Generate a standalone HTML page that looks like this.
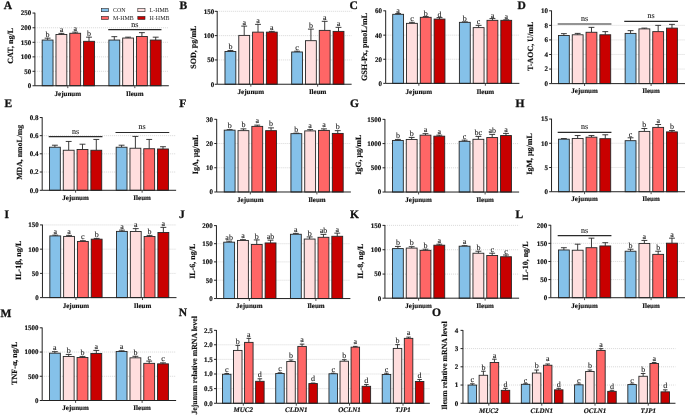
<!DOCTYPE html>
<html lang="en"><head><meta charset="utf-8"><title>Figure</title>
<style>
html,body{margin:0;padding:0;background:#fff;}
body{width:685px;height:416px;overflow:hidden;font-family:"Liberation Serif",serif;}
svg{display:block;}
</style></head><body>
<svg width="685" height="416" viewBox="0 0 685 416" font-family="'Liberation Serif', serif" text-rendering="geometricPrecision">
<style>.b{font-weight:bold;fill:#111;stroke:#111;stroke-width:0.16px;stroke-linejoin:round}.pl{stroke-width:0.3px}.r{fill:#1a1a1a;stroke:#1a1a1a;stroke-width:0.1px}</style>
<rect width="685" height="416" fill="#fff"/>
<g>
<line x1="34.9" y1="71.31" x2="168.83" y2="71.31" stroke="#b8b8b8" stroke-width="0.55" stroke-dasharray="1 1"/>
<line x1="34.9" y1="56.87" x2="168.83" y2="56.87" stroke="#b8b8b8" stroke-width="0.55" stroke-dasharray="1 1"/>
<line x1="34.9" y1="42.31" x2="168.83" y2="42.31" stroke="#b8b8b8" stroke-width="0.55" stroke-dasharray="1 1"/>
<line x1="34.9" y1="27.75" x2="168.83" y2="27.75" stroke="#b8b8b8" stroke-width="0.55" stroke-dasharray="1 1"/>
<path d="M47.61 40.05V38.17M44.68 38.17H50.54" stroke="#262626" stroke-width="0.9" fill="none"/>
<rect x="42.18" y="40.05" width="10.85" height="45.7" fill="#85c1e9" stroke="#262626" stroke-width="0.9"/>
<text x="47.61" y="36.77" font-size="8.0" text-anchor="middle" class="r">b</text>
<path d="M61.41 34.53V33.4M58.48 33.4H64.34" stroke="#262626" stroke-width="0.9" fill="none"/>
<rect x="55.98" y="34.53" width="10.85" height="51.22" fill="#ffdede" stroke="#262626" stroke-width="0.9"/>
<text x="61.41" y="32" font-size="8.0" text-anchor="middle" class="r">a</text>
<path d="M75.21 33.27V32.14M72.28 32.14H78.14" stroke="#262626" stroke-width="0.9" fill="none"/>
<rect x="69.78" y="33.27" width="10.85" height="52.48" fill="#ff6666" stroke="#262626" stroke-width="0.9"/>
<text x="75.21" y="30.74" font-size="8.0" text-anchor="middle" class="r">a</text>
<path d="M89.01 41.31V37.16M86.08 37.16H91.94" stroke="#262626" stroke-width="0.9" fill="none"/>
<rect x="83.58" y="41.31" width="10.85" height="44.44" fill="#c90000" stroke="#262626" stroke-width="0.9"/>
<text x="89.01" y="35.76" font-size="8.0" text-anchor="middle" class="r">b</text>
<path d="M114.31 40.05V36.66M111.38 36.66H117.24" stroke="#262626" stroke-width="0.9" fill="none"/>
<rect x="108.88" y="40.05" width="10.85" height="45.7" fill="#85c1e9" stroke="#262626" stroke-width="0.9"/>
<path d="M128.11 38.04V37.16M125.18 37.16H131.04" stroke="#262626" stroke-width="0.9" fill="none"/>
<rect x="122.68" y="38.04" width="10.85" height="47.71" fill="#ffdede" stroke="#262626" stroke-width="0.9"/>
<path d="M141.91 36.53V32.64M138.98 32.64H144.84" stroke="#262626" stroke-width="0.9" fill="none"/>
<rect x="136.48" y="36.53" width="10.85" height="49.21" fill="#ff6666" stroke="#262626" stroke-width="0.9"/>
<path d="M155.71 40.05V37.16M152.78 37.16H158.64" stroke="#262626" stroke-width="0.9" fill="none"/>
<rect x="150.28" y="40.05" width="10.85" height="45.7" fill="#c90000" stroke="#262626" stroke-width="0.9"/>
<line x1="108.22" y1="29.6" x2="161.45" y2="29.6" stroke="#2a2a2a" stroke-width="1.15"/>
<text x="134.84" y="26.76" font-size="8.0" text-anchor="middle" class="r">ns</text>
<path d="M34.9 12.76V85.75H168.83" stroke="#222" stroke-width="1" fill="none"/>
<line x1="32.5" y1="85.75" x2="34.9" y2="85.75" stroke="#222" stroke-width="1"/>
<text x="31.3" y="88.15" font-size="7.0" class="b" text-anchor="end">0</text>
<line x1="32.5" y1="71.31" x2="34.9" y2="71.31" stroke="#222" stroke-width="1"/>
<text x="31.3" y="73.71" font-size="7.0" class="b" text-anchor="end">50</text>
<line x1="32.5" y1="56.87" x2="34.9" y2="56.87" stroke="#222" stroke-width="1"/>
<text x="31.3" y="59.27" font-size="7.0" class="b" text-anchor="end">100</text>
<line x1="32.5" y1="42.31" x2="34.9" y2="42.31" stroke="#222" stroke-width="1"/>
<text x="31.3" y="44.71" font-size="7.0" class="b" text-anchor="end">150</text>
<line x1="32.5" y1="27.75" x2="34.9" y2="27.75" stroke="#222" stroke-width="1"/>
<text x="31.3" y="30.15" font-size="7.0" class="b" text-anchor="end">200</text>
<line x1="32.5" y1="13.06" x2="34.9" y2="13.06" stroke="#222" stroke-width="1"/>
<text x="31.3" y="15.46" font-size="7.0" class="b" text-anchor="end">250</text>
<line x1="67.8" y1="85.75" x2="67.8" y2="88.15" stroke="#222" stroke-width="0.8"/>
<text x="67.8" y="96.17" font-size="7.0" class="b" text-anchor="middle">Jejunum</text>
<line x1="134.84" y1="85.75" x2="134.84" y2="88.15" stroke="#222" stroke-width="0.8"/>
<text x="134.84" y="96.17" font-size="7.0" class="b" text-anchor="middle">Ileum</text>
<text transform="translate(12.9 45.8) rotate(-90)" font-size="8.0" class="b" text-anchor="middle">CAT, ng/L</text>
<text x="3.8" y="8.7" font-size="11.5" class="b pl">A</text>
</g>
<g>
<line x1="217.2" y1="59.94" x2="351.63" y2="59.94" stroke="#b8b8b8" stroke-width="0.55" stroke-dasharray="1 1"/>
<line x1="217.2" y1="35.61" x2="351.63" y2="35.61" stroke="#b8b8b8" stroke-width="0.55" stroke-dasharray="1 1"/>
<line x1="217.2" y1="11.3" x2="351.63" y2="11.3" stroke="#b8b8b8" stroke-width="0.55" stroke-dasharray="1 1"/>
<path d="M230.41 51.47V50.47M227.48 50.47H233.34" stroke="#262626" stroke-width="0.9" fill="none"/>
<rect x="224.98" y="51.47" width="10.85" height="32.77" fill="#85c1e9" stroke="#262626" stroke-width="0.9"/>
<text x="230.41" y="49.07" font-size="8.0" text-anchor="middle" class="r">b</text>
<path d="M244.21 35.4V26.11M241.28 26.11H247.14" stroke="#262626" stroke-width="0.9" fill="none"/>
<rect x="238.78" y="35.4" width="10.85" height="48.84" fill="#ffdede" stroke="#262626" stroke-width="0.9"/>
<text x="244.21" y="24.71" font-size="8.0" text-anchor="middle" class="r">a</text>
<path d="M258.01 32.14V24.36M255.08 24.36H260.94" stroke="#262626" stroke-width="0.9" fill="none"/>
<rect x="252.58" y="32.14" width="10.85" height="52.1" fill="#ff6666" stroke="#262626" stroke-width="0.9"/>
<text x="258.01" y="22.96" font-size="8.0" text-anchor="middle" class="r">a</text>
<path d="M271.81 32.14V31.39M268.88 31.39H274.74" stroke="#262626" stroke-width="0.9" fill="none"/>
<rect x="266.38" y="32.14" width="10.85" height="52.1" fill="#c90000" stroke="#262626" stroke-width="0.9"/>
<text x="271.81" y="29.99" font-size="8.0" text-anchor="middle" class="r">a</text>
<path d="M297.11 51.98V51.22M294.18 51.22H300.04" stroke="#262626" stroke-width="0.9" fill="none"/>
<rect x="291.68" y="51.98" width="10.85" height="32.27" fill="#85c1e9" stroke="#262626" stroke-width="0.9"/>
<text x="297.11" y="49.82" font-size="8.0" text-anchor="middle" class="r">c</text>
<path d="M310.91 40.68V29.13M307.98 29.13H313.84" stroke="#262626" stroke-width="0.9" fill="none"/>
<rect x="305.48" y="40.68" width="10.85" height="43.56" fill="#ffdede" stroke="#262626" stroke-width="0.9"/>
<text x="310.91" y="27.73" font-size="8.0" text-anchor="middle" class="r">b</text>
<path d="M324.71 30.38V21.34M321.78 21.34H327.64" stroke="#262626" stroke-width="0.9" fill="none"/>
<rect x="319.28" y="30.38" width="10.85" height="53.86" fill="#ff6666" stroke="#262626" stroke-width="0.9"/>
<text x="324.71" y="19.94" font-size="8.0" text-anchor="middle" class="r">a</text>
<path d="M338.51 31.39V27.37M335.58 27.37H341.44" stroke="#262626" stroke-width="0.9" fill="none"/>
<rect x="333.08" y="31.39" width="10.85" height="52.86" fill="#c90000" stroke="#262626" stroke-width="0.9"/>
<text x="338.51" y="25.97" font-size="8.0" text-anchor="middle" class="r">a</text>
<path d="M217.2 11V84.24H351.63" stroke="#222" stroke-width="1" fill="none"/>
<line x1="214.8" y1="84.24" x2="217.2" y2="84.24" stroke="#222" stroke-width="1"/>
<text x="214.2" y="86.64" font-size="7.0" class="b" text-anchor="end">0</text>
<line x1="214.8" y1="59.94" x2="217.2" y2="59.94" stroke="#222" stroke-width="1"/>
<text x="214.2" y="62.34" font-size="7.0" class="b" text-anchor="end">50</text>
<line x1="214.8" y1="35.61" x2="217.2" y2="35.61" stroke="#222" stroke-width="1"/>
<text x="214.2" y="38.01" font-size="7.0" class="b" text-anchor="end">100</text>
<line x1="214.8" y1="11.3" x2="217.2" y2="11.3" stroke="#222" stroke-width="1"/>
<text x="214.2" y="13.7" font-size="7.0" class="b" text-anchor="end">150</text>
<line x1="250.84" y1="84.24" x2="250.84" y2="86.64" stroke="#222" stroke-width="0.8"/>
<text x="250.84" y="93.66" font-size="7.0" class="b" text-anchor="middle">Jejunum</text>
<line x1="317.64" y1="84.24" x2="317.64" y2="86.64" stroke="#222" stroke-width="0.8"/>
<text x="317.64" y="93.66" font-size="7.0" class="b" text-anchor="middle">Ileum</text>
<text transform="translate(196 47.1) rotate(-90)" font-size="8.0" class="b" text-anchor="middle">SOD, pg/mL</text>
<text x="179.6" y="8.7" font-size="11.5" class="b pl">B</text>
</g>
<g>
<line x1="385.68" y1="59.26" x2="519.36" y2="59.26" stroke="#b8b8b8" stroke-width="0.55" stroke-dasharray="1 1"/>
<line x1="385.68" y1="35.15" x2="519.36" y2="35.15" stroke="#b8b8b8" stroke-width="0.55" stroke-dasharray="1 1"/>
<path d="M398.14 14.31V13.56M395.21 13.56H401.07" stroke="#262626" stroke-width="0.9" fill="none"/>
<rect x="392.71" y="14.31" width="10.85" height="69.05" fill="#85c1e9" stroke="#262626" stroke-width="0.9"/>
<text x="398.14" y="12.56" font-size="8.0" text-anchor="middle" class="r">a</text>
<path d="M411.94 23.35V22.35M409.01 22.35H414.87" stroke="#262626" stroke-width="0.9" fill="none"/>
<rect x="406.51" y="23.35" width="10.85" height="60.01" fill="#ffdede" stroke="#262626" stroke-width="0.9"/>
<text x="411.94" y="21.35" font-size="8.0" text-anchor="middle" class="r">c</text>
<path d="M425.74 17.33V16.57M422.81 16.57H428.67" stroke="#262626" stroke-width="0.9" fill="none"/>
<rect x="420.31" y="17.33" width="10.85" height="66.04" fill="#ff6666" stroke="#262626" stroke-width="0.9"/>
<text x="425.74" y="15.57" font-size="8.0" text-anchor="middle" class="r">b</text>
<path d="M439.54 19.08V17.58M436.61 17.58H442.47" stroke="#262626" stroke-width="0.9" fill="none"/>
<rect x="434.11" y="19.08" width="10.85" height="64.28" fill="#c90000" stroke="#262626" stroke-width="0.9"/>
<text x="439.54" y="16.58" font-size="8.0" text-anchor="middle" class="r">d</text>
<path d="M464.84 22.35V21.85M461.91 21.85H467.77" stroke="#262626" stroke-width="0.9" fill="none"/>
<rect x="459.41" y="22.35" width="10.85" height="61.02" fill="#85c1e9" stroke="#262626" stroke-width="0.9"/>
<text x="464.84" y="20.85" font-size="8.0" text-anchor="middle" class="r">b</text>
<path d="M478.64 27.62V25.36M475.71 25.36H481.57" stroke="#262626" stroke-width="0.9" fill="none"/>
<rect x="473.21" y="27.62" width="10.85" height="55.74" fill="#ffdede" stroke="#262626" stroke-width="0.9"/>
<text x="478.64" y="24.36" font-size="8.0" text-anchor="middle" class="r">c</text>
<path d="M492.44 20.34V18.58M489.51 18.58H495.37" stroke="#262626" stroke-width="0.9" fill="none"/>
<rect x="487.01" y="20.34" width="10.85" height="63.02" fill="#ff6666" stroke="#262626" stroke-width="0.9"/>
<text x="492.44" y="17.58" font-size="8.0" text-anchor="middle" class="r">a</text>
<path d="M506.24 20.34V19.84M503.31 19.84H509.17" stroke="#262626" stroke-width="0.9" fill="none"/>
<rect x="500.81" y="20.34" width="10.85" height="63.02" fill="#c90000" stroke="#262626" stroke-width="0.9"/>
<text x="506.24" y="18.84" font-size="8.0" text-anchor="middle" class="r">a</text>
<path d="M385.68 10.5V83.36H519.36" stroke="#222" stroke-width="1" fill="none"/>
<line x1="383.28" y1="83.36" x2="385.68" y2="83.36" stroke="#222" stroke-width="1"/>
<text x="382.08" y="85.76" font-size="7.0" class="b" text-anchor="end">0</text>
<line x1="383.28" y1="59.26" x2="385.68" y2="59.26" stroke="#222" stroke-width="1"/>
<text x="382.08" y="61.66" font-size="7.0" class="b" text-anchor="end">20</text>
<line x1="383.28" y1="35.15" x2="385.68" y2="35.15" stroke="#222" stroke-width="1"/>
<text x="382.08" y="37.55" font-size="7.0" class="b" text-anchor="end">40</text>
<line x1="383.28" y1="10.8" x2="385.68" y2="10.8" stroke="#222" stroke-width="1"/>
<text x="382.08" y="13.2" font-size="7.0" class="b" text-anchor="end">60</text>
<line x1="418.83" y1="83.36" x2="418.83" y2="85.76" stroke="#222" stroke-width="0.8"/>
<text x="418.83" y="93.66" font-size="7.0" class="b" text-anchor="middle">Jejunum</text>
<line x1="485.37" y1="83.36" x2="485.37" y2="85.76" stroke="#222" stroke-width="0.8"/>
<text x="485.37" y="93.66" font-size="7.0" class="b" text-anchor="middle">Ileum</text>
<text transform="translate(366.8 46.9) rotate(-90)" font-size="8.15" class="b" text-anchor="middle">GSH-Px, pmoL/mL</text>
<text x="349.5" y="8.7" font-size="11.5" class="b pl">C</text>
</g>
<g>
<line x1="551.54" y1="69.05" x2="685.1" y2="69.05" stroke="#b8b8b8" stroke-width="0.55" stroke-dasharray="1 1"/>
<line x1="551.54" y1="54.49" x2="685.1" y2="54.49" stroke="#b8b8b8" stroke-width="0.55" stroke-dasharray="1 1"/>
<line x1="551.54" y1="39.92" x2="685.1" y2="39.92" stroke="#b8b8b8" stroke-width="0.55" stroke-dasharray="1 1"/>
<line x1="551.54" y1="25.36" x2="685.1" y2="25.36" stroke="#b8b8b8" stroke-width="0.55" stroke-dasharray="1 1"/>
<path d="M563.87 35.53V33.65M560.94 33.65H566.8" stroke="#262626" stroke-width="0.9" fill="none"/>
<rect x="558.45" y="35.53" width="10.85" height="48.08" fill="#85c1e9" stroke="#262626" stroke-width="0.9"/>
<path d="M577.67 34.78V33.4M574.74 33.4H580.6" stroke="#262626" stroke-width="0.9" fill="none"/>
<rect x="572.25" y="34.78" width="10.85" height="48.84" fill="#ffdede" stroke="#262626" stroke-width="0.9"/>
<path d="M591.47 32.27V27.37M588.54 27.37H594.4" stroke="#262626" stroke-width="0.9" fill="none"/>
<rect x="586.05" y="32.27" width="10.85" height="51.35" fill="#ff6666" stroke="#262626" stroke-width="0.9"/>
<path d="M605.27 34.78V31.64M602.34 31.64H608.2" stroke="#262626" stroke-width="0.9" fill="none"/>
<rect x="599.85" y="34.78" width="10.85" height="48.84" fill="#c90000" stroke="#262626" stroke-width="0.9"/>
<path d="M630.57 33.4V30.63M627.64 30.63H633.5" stroke="#262626" stroke-width="0.9" fill="none"/>
<rect x="625.15" y="33.4" width="10.85" height="50.22" fill="#85c1e9" stroke="#262626" stroke-width="0.9"/>
<path d="M644.37 28.88V28.12M641.44 28.12H647.3" stroke="#262626" stroke-width="0.9" fill="none"/>
<rect x="638.95" y="28.88" width="10.85" height="54.74" fill="#ffdede" stroke="#262626" stroke-width="0.9"/>
<path d="M658.17 31.64V25.36M655.24 25.36H661.1" stroke="#262626" stroke-width="0.9" fill="none"/>
<rect x="652.75" y="31.64" width="10.85" height="51.98" fill="#ff6666" stroke="#262626" stroke-width="0.9"/>
<path d="M671.97 28.12V24.36M669.04 24.36H674.9" stroke="#262626" stroke-width="0.9" fill="none"/>
<rect x="666.55" y="28.12" width="10.85" height="55.49" fill="#c90000" stroke="#262626" stroke-width="0.9"/>
<line x1="557.69" y1="24" x2="611.43" y2="24" stroke="#2a2a2a" stroke-width="1.15"/>
<line x1="624.24" y1="21.39" x2="677.97" y2="21.39" stroke="#2a2a2a" stroke-width="1.15"/>
<text x="584.56" y="20.99" font-size="8.0" text-anchor="middle" class="r">ns</text>
<text x="651.1" y="17.97" font-size="8.0" text-anchor="middle" class="r">ns</text>
<path d="M551.54 10.5V83.61H685.1" stroke="#222" stroke-width="1" fill="none"/>
<line x1="549.14" y1="83.61" x2="551.54" y2="83.61" stroke="#222" stroke-width="1"/>
<text x="547.94" y="86.01" font-size="7.0" class="b" text-anchor="end">0</text>
<line x1="549.14" y1="69.05" x2="551.54" y2="69.05" stroke="#222" stroke-width="1"/>
<text x="547.94" y="71.45" font-size="7.0" class="b" text-anchor="end">2</text>
<line x1="549.14" y1="54.49" x2="551.54" y2="54.49" stroke="#222" stroke-width="1"/>
<text x="547.94" y="56.89" font-size="7.0" class="b" text-anchor="end">4</text>
<line x1="549.14" y1="39.92" x2="551.54" y2="39.92" stroke="#222" stroke-width="1"/>
<text x="547.94" y="42.32" font-size="7.0" class="b" text-anchor="end">6</text>
<line x1="549.14" y1="25.36" x2="551.54" y2="25.36" stroke="#222" stroke-width="1"/>
<text x="547.94" y="27.76" font-size="7.0" class="b" text-anchor="end">8</text>
<line x1="549.14" y1="10.8" x2="551.54" y2="10.8" stroke="#222" stroke-width="1"/>
<text x="547.94" y="13.2" font-size="7.0" class="b" text-anchor="end">10</text>
<line x1="584.56" y1="83.61" x2="584.56" y2="86.01" stroke="#222" stroke-width="0.8"/>
<text x="584.56" y="93.41" font-size="7.0" class="b" text-anchor="middle">Jejunum</text>
<line x1="651.1" y1="83.61" x2="651.1" y2="86.01" stroke="#222" stroke-width="0.8"/>
<text x="651.1" y="93.41" font-size="7.0" class="b" text-anchor="middle">Ileum</text>
<text transform="translate(533.3 46.2) rotate(-90)" font-size="8.0" class="b" text-anchor="middle">T-AOC, U/mL</text>
<text x="517.4" y="8.7" font-size="11.5" class="b pl">D</text>
</g>
<g>
<line x1="42.18" y1="172.01" x2="176.12" y2="172.01" stroke="#b8b8b8" stroke-width="0.55" stroke-dasharray="1 1"/>
<line x1="42.18" y1="153.8" x2="176.12" y2="153.8" stroke="#b8b8b8" stroke-width="0.55" stroke-dasharray="1 1"/>
<line x1="42.18" y1="135.67" x2="176.12" y2="135.67" stroke="#b8b8b8" stroke-width="0.55" stroke-dasharray="1 1"/>
<path d="M54.89 147.22V145.21M51.96 145.21H57.82" stroke="#262626" stroke-width="0.9" fill="none"/>
<rect x="49.47" y="147.22" width="10.85" height="43.06" fill="#85c1e9" stroke="#262626" stroke-width="0.9"/>
<path d="M68.69 150.24V141.45M65.76 141.45H71.62" stroke="#262626" stroke-width="0.9" fill="none"/>
<rect x="63.27" y="150.24" width="10.85" height="40.05" fill="#ffdede" stroke="#262626" stroke-width="0.9"/>
<path d="M82.49 149.48V144.21M79.56 144.21H85.42" stroke="#262626" stroke-width="0.9" fill="none"/>
<rect x="77.07" y="149.48" width="10.85" height="40.8" fill="#ff6666" stroke="#262626" stroke-width="0.9"/>
<path d="M96.29 150.24V139.44M93.36 139.44H99.22" stroke="#262626" stroke-width="0.9" fill="none"/>
<rect x="90.87" y="150.24" width="10.85" height="40.05" fill="#c90000" stroke="#262626" stroke-width="0.9"/>
<path d="M121.59 147.22V145.21M118.66 145.21H124.52" stroke="#262626" stroke-width="0.9" fill="none"/>
<rect x="116.17" y="147.22" width="10.85" height="43.06" fill="#85c1e9" stroke="#262626" stroke-width="0.9"/>
<path d="M135.39 148.23V136.43M132.46 136.43H138.32" stroke="#262626" stroke-width="0.9" fill="none"/>
<rect x="129.97" y="148.23" width="10.85" height="42.06" fill="#ffdede" stroke="#262626" stroke-width="0.9"/>
<path d="M149.19 148.73V139.44M146.26 139.44H152.12" stroke="#262626" stroke-width="0.9" fill="none"/>
<rect x="143.77" y="148.73" width="10.85" height="41.56" fill="#ff6666" stroke="#262626" stroke-width="0.9"/>
<path d="M162.99 148.98V146.72M160.06 146.72H165.92" stroke="#262626" stroke-width="0.9" fill="none"/>
<rect x="157.57" y="148.98" width="10.85" height="41.31" fill="#c90000" stroke="#262626" stroke-width="0.9"/>
<line x1="48.71" y1="136.58" x2="102.45" y2="136.58" stroke="#2a2a2a" stroke-width="1.15"/>
<line x1="115.5" y1="132.48" x2="169.24" y2="132.48" stroke="#2a2a2a" stroke-width="1.15"/>
<text x="75.58" y="133.56" font-size="8.0" text-anchor="middle" class="r">ns</text>
<text x="142.12" y="129.12" font-size="8.0" text-anchor="middle" class="r">ns</text>
<path d="M42.18 117.24V190.29H176.12" stroke="#222" stroke-width="1" fill="none"/>
<line x1="39.78" y1="190.29" x2="42.18" y2="190.29" stroke="#222" stroke-width="1"/>
<text x="38.58" y="192.69" font-size="7.0" class="b" text-anchor="end">0.0</text>
<line x1="39.78" y1="172.01" x2="42.18" y2="172.01" stroke="#222" stroke-width="1"/>
<text x="38.58" y="174.41" font-size="7.0" class="b" text-anchor="end">0.2</text>
<line x1="39.78" y1="153.8" x2="42.18" y2="153.8" stroke="#222" stroke-width="1"/>
<text x="38.58" y="156.2" font-size="7.0" class="b" text-anchor="end">0.4</text>
<line x1="39.78" y1="135.67" x2="42.18" y2="135.67" stroke="#222" stroke-width="1"/>
<text x="38.58" y="138.07" font-size="7.0" class="b" text-anchor="end">0.6</text>
<line x1="39.78" y1="117.54" x2="42.18" y2="117.54" stroke="#222" stroke-width="1"/>
<text x="38.58" y="119.94" font-size="7.0" class="b" text-anchor="end">0.8</text>
<line x1="75.58" y1="190.29" x2="75.58" y2="192.69" stroke="#222" stroke-width="0.8"/>
<text x="75.58" y="199.7" font-size="7.0" class="b" text-anchor="middle">Jejunum</text>
<line x1="142.12" y1="190.29" x2="142.12" y2="192.69" stroke="#222" stroke-width="0.8"/>
<text x="142.12" y="199.7" font-size="7.0" class="b" text-anchor="middle">Ileum</text>
<text transform="translate(22.2 152.3) rotate(-90)" font-size="7.8" class="b" text-anchor="middle">MDA, nmoL/mg</text>
<text x="4.5" y="106.7" font-size="11.5" class="b pl">E</text>
</g>
<g>
<line x1="216.69" y1="167.76" x2="350.88" y2="167.76" stroke="#b8b8b8" stroke-width="0.55" stroke-dasharray="1 1"/>
<line x1="216.69" y1="143.53" x2="350.88" y2="143.53" stroke="#b8b8b8" stroke-width="0.55" stroke-dasharray="1 1"/>
<path d="M229.65 130.15V129.65M226.72 129.65H232.58" stroke="#262626" stroke-width="0.9" fill="none"/>
<rect x="224.23" y="130.15" width="10.85" height="61.84" fill="#85c1e9" stroke="#262626" stroke-width="0.9"/>
<text x="229.65" y="128.25" font-size="8.0" text-anchor="middle" class="r">b</text>
<path d="M243.45 130.65V128.89M240.52 128.89H246.38" stroke="#262626" stroke-width="0.9" fill="none"/>
<rect x="238.03" y="130.65" width="10.85" height="61.34" fill="#ffdede" stroke="#262626" stroke-width="0.9"/>
<text x="243.45" y="127.49" font-size="8.0" text-anchor="middle" class="r">b</text>
<path d="M257.25 126.38V125.13M254.32 125.13H260.18" stroke="#262626" stroke-width="0.9" fill="none"/>
<rect x="251.83" y="126.38" width="10.85" height="65.61" fill="#ff6666" stroke="#262626" stroke-width="0.9"/>
<text x="257.25" y="123.13" font-size="8.0" text-anchor="middle" class="r">a</text>
<path d="M271.05 130.65V127.89M268.12 127.89H273.98" stroke="#262626" stroke-width="0.9" fill="none"/>
<rect x="265.63" y="130.65" width="10.85" height="61.34" fill="#c90000" stroke="#262626" stroke-width="0.9"/>
<text x="271.05" y="126.49" font-size="8.0" text-anchor="middle" class="r">b</text>
<path d="M296.35 133.66V133.16M293.42 133.16H299.28" stroke="#262626" stroke-width="0.9" fill="none"/>
<rect x="290.93" y="133.66" width="10.85" height="58.33" fill="#85c1e9" stroke="#262626" stroke-width="0.9"/>
<text x="296.35" y="131.76" font-size="8.0" text-anchor="middle" class="r">b</text>
<path d="M310.15 130.9V129.65M307.22 129.65H313.08" stroke="#262626" stroke-width="0.9" fill="none"/>
<rect x="304.73" y="130.9" width="10.85" height="61.09" fill="#ffdede" stroke="#262626" stroke-width="0.9"/>
<text x="310.15" y="128.25" font-size="8.0" text-anchor="middle" class="r">a</text>
<path d="M323.95 130.4V128.89M321.02 128.89H326.88" stroke="#262626" stroke-width="0.9" fill="none"/>
<rect x="318.53" y="130.4" width="10.85" height="61.59" fill="#ff6666" stroke="#262626" stroke-width="0.9"/>
<text x="323.95" y="127.49" font-size="8.0" text-anchor="middle" class="r">a</text>
<path d="M337.75 133.41V130.65M334.82 130.65H340.68" stroke="#262626" stroke-width="0.9" fill="none"/>
<rect x="332.33" y="133.41" width="10.85" height="58.58" fill="#c90000" stroke="#262626" stroke-width="0.9"/>
<text x="337.75" y="129.25" font-size="8.0" text-anchor="middle" class="r">b</text>
<path d="M216.69 119V191.99H350.88" stroke="#222" stroke-width="1" fill="none"/>
<line x1="214.29" y1="191.99" x2="216.69" y2="191.99" stroke="#222" stroke-width="1"/>
<text x="213.09" y="194.39" font-size="7.0" class="b" text-anchor="end">0</text>
<line x1="214.29" y1="167.76" x2="216.69" y2="167.76" stroke="#222" stroke-width="1"/>
<text x="213.09" y="170.16" font-size="7.0" class="b" text-anchor="end">10</text>
<line x1="214.29" y1="143.53" x2="216.69" y2="143.53" stroke="#222" stroke-width="1"/>
<text x="213.09" y="145.93" font-size="7.0" class="b" text-anchor="end">20</text>
<line x1="214.29" y1="119.3" x2="216.69" y2="119.3" stroke="#222" stroke-width="1"/>
<text x="213.09" y="121.7" font-size="7.0" class="b" text-anchor="end">30</text>
<line x1="250.34" y1="191.99" x2="250.34" y2="194.39" stroke="#222" stroke-width="0.8"/>
<text x="250.34" y="201.96" font-size="7.0" class="b" text-anchor="middle">Jejunum</text>
<line x1="316.88" y1="191.99" x2="316.88" y2="194.39" stroke="#222" stroke-width="0.8"/>
<text x="316.88" y="201.96" font-size="7.0" class="b" text-anchor="middle">Ileum</text>
<text transform="translate(198 154.4) rotate(-90)" font-size="8.0" class="b" text-anchor="middle">IgA, μg/mL</text>
<text x="179.2" y="106.7" font-size="11.5" class="b pl">F</text>
</g>
<g>
<line x1="384.93" y1="167.81" x2="519.11" y2="167.81" stroke="#b8b8b8" stroke-width="0.55" stroke-dasharray="1 1"/>
<line x1="384.93" y1="143.58" x2="519.11" y2="143.58" stroke="#b8b8b8" stroke-width="0.55" stroke-dasharray="1 1"/>
<path d="M397.89 140.44V139.44M394.96 139.44H400.82" stroke="#262626" stroke-width="0.9" fill="none"/>
<rect x="392.46" y="140.44" width="10.85" height="51.6" fill="#85c1e9" stroke="#262626" stroke-width="0.9"/>
<text x="397.89" y="138.04" font-size="8.0" text-anchor="middle" class="r">b</text>
<path d="M411.69 139.44V137.43M408.76 137.43H414.62" stroke="#262626" stroke-width="0.9" fill="none"/>
<rect x="406.26" y="139.44" width="10.85" height="52.6" fill="#ffdede" stroke="#262626" stroke-width="0.9"/>
<text x="411.69" y="136.03" font-size="8.0" text-anchor="middle" class="r">b</text>
<path d="M425.49 135.17V133.66M422.56 133.66H428.42" stroke="#262626" stroke-width="0.9" fill="none"/>
<rect x="420.06" y="135.17" width="10.85" height="56.87" fill="#ff6666" stroke="#262626" stroke-width="0.9"/>
<text x="425.49" y="132.26" font-size="8.0" text-anchor="middle" class="r">a</text>
<path d="M439.29 136.18V135.17M436.36 135.17H442.22" stroke="#262626" stroke-width="0.9" fill="none"/>
<rect x="433.86" y="136.18" width="10.85" height="55.87" fill="#c90000" stroke="#262626" stroke-width="0.9"/>
<text x="439.29" y="133.77" font-size="8.0" text-anchor="middle" class="r">a</text>
<path d="M464.59 141.32V140.19M461.66 140.19H467.52" stroke="#262626" stroke-width="0.9" fill="none"/>
<rect x="459.16" y="141.32" width="10.85" height="50.72" fill="#85c1e9" stroke="#262626" stroke-width="0.9"/>
<text x="464.59" y="138.79" font-size="8.0" text-anchor="middle" class="r">c</text>
<path d="M478.39 139.31V136.43M475.46 136.43H481.32" stroke="#262626" stroke-width="0.9" fill="none"/>
<rect x="472.96" y="139.31" width="10.85" height="52.73" fill="#ffdede" stroke="#262626" stroke-width="0.9"/>
<text x="478.39" y="135.03" font-size="8.0" text-anchor="middle" class="r">bc</text>
<path d="M492.19 137.56V134.42M489.26 134.42H495.12" stroke="#262626" stroke-width="0.9" fill="none"/>
<rect x="486.76" y="137.56" width="10.85" height="54.49" fill="#ff6666" stroke="#262626" stroke-width="0.9"/>
<text x="492.19" y="133.02" font-size="8.0" text-anchor="middle" class="r">ab</text>
<path d="M505.99 135.55V133.41M503.06 133.41H508.92" stroke="#262626" stroke-width="0.9" fill="none"/>
<rect x="500.56" y="135.55" width="10.85" height="56.5" fill="#c90000" stroke="#262626" stroke-width="0.9"/>
<text x="505.99" y="132.01" font-size="8.0" text-anchor="middle" class="r">a</text>
<path d="M384.93 119.05V192.04H519.11" stroke="#222" stroke-width="1" fill="none"/>
<line x1="382.53" y1="192.04" x2="384.93" y2="192.04" stroke="#222" stroke-width="1"/>
<text x="381.33" y="194.44" font-size="7.0" class="b" text-anchor="end">0</text>
<line x1="382.53" y1="167.81" x2="384.93" y2="167.81" stroke="#222" stroke-width="1"/>
<text x="381.33" y="170.21" font-size="7.0" class="b" text-anchor="end">500</text>
<line x1="382.53" y1="143.58" x2="384.93" y2="143.58" stroke="#222" stroke-width="1"/>
<text x="381.33" y="145.98" font-size="7.0" class="b" text-anchor="end">1000</text>
<line x1="382.53" y1="119.35" x2="384.93" y2="119.35" stroke="#222" stroke-width="1"/>
<text x="381.33" y="121.75" font-size="7.0" class="b" text-anchor="end">1500</text>
<line x1="418.58" y1="192.04" x2="418.58" y2="194.44" stroke="#222" stroke-width="0.8"/>
<text x="418.58" y="201.96" font-size="7.0" class="b" text-anchor="middle">Jejunum</text>
<line x1="485.12" y1="192.04" x2="485.12" y2="194.44" stroke="#222" stroke-width="0.8"/>
<text x="485.12" y="201.96" font-size="7.0" class="b" text-anchor="middle">Ileum</text>
<text transform="translate(360.6 154.8) rotate(-90)" font-size="8.0" class="b" text-anchor="middle">IgG, μg/mL</text>
<text x="350.1" y="106.7" font-size="11.5" class="b pl">G</text>
</g>
<g>
<line x1="551.54" y1="167.51" x2="685.1" y2="167.51" stroke="#b8b8b8" stroke-width="0.55" stroke-dasharray="1 1"/>
<line x1="551.54" y1="143.28" x2="685.1" y2="143.28" stroke="#b8b8b8" stroke-width="0.55" stroke-dasharray="1 1"/>
<path d="M563.87 139.19V138.56M560.94 138.56H566.8" stroke="#262626" stroke-width="0.9" fill="none"/>
<rect x="558.45" y="139.19" width="10.85" height="52.55" fill="#85c1e9" stroke="#262626" stroke-width="0.9"/>
<path d="M577.67 138.44V135.55M574.74 135.55H580.6" stroke="#262626" stroke-width="0.9" fill="none"/>
<rect x="572.25" y="138.44" width="10.85" height="53.31" fill="#ffdede" stroke="#262626" stroke-width="0.9"/>
<path d="M591.47 137.18V135.55M588.54 135.55H594.4" stroke="#262626" stroke-width="0.9" fill="none"/>
<rect x="586.05" y="137.18" width="10.85" height="54.56" fill="#ff6666" stroke="#262626" stroke-width="0.9"/>
<path d="M605.27 138.69V134.79M602.34 134.79H608.2" stroke="#262626" stroke-width="0.9" fill="none"/>
<rect x="599.85" y="138.69" width="10.85" height="53.06" fill="#c90000" stroke="#262626" stroke-width="0.9"/>
<path d="M630.57 140.69V137.81M627.64 137.81H633.5" stroke="#262626" stroke-width="0.9" fill="none"/>
<rect x="625.15" y="140.69" width="10.85" height="51.05" fill="#85c1e9" stroke="#262626" stroke-width="0.9"/>
<text x="630.57" y="137.41" font-size="8.0" text-anchor="middle" class="r">c</text>
<path d="M644.37 131.4V128.52M641.44 128.52H647.3" stroke="#262626" stroke-width="0.9" fill="none"/>
<rect x="638.95" y="131.4" width="10.85" height="60.34" fill="#ffdede" stroke="#262626" stroke-width="0.9"/>
<text x="644.37" y="127.42" font-size="8.0" text-anchor="middle" class="r">b</text>
<path d="M658.17 127.39V124.5M655.24 124.5H661.1" stroke="#262626" stroke-width="0.9" fill="none"/>
<rect x="652.75" y="127.39" width="10.85" height="64.36" fill="#ff6666" stroke="#262626" stroke-width="0.9"/>
<text x="658.17" y="123.1" font-size="8.0" text-anchor="middle" class="r">a</text>
<path d="M671.97 131.91V130.53M669.04 130.53H674.9" stroke="#262626" stroke-width="0.9" fill="none"/>
<rect x="666.55" y="131.91" width="10.85" height="59.84" fill="#c90000" stroke="#262626" stroke-width="0.9"/>
<text x="671.97" y="129.33" font-size="8.0" text-anchor="middle" class="r">b</text>
<line x1="557.69" y1="132.43" x2="611.43" y2="132.43" stroke="#2a2a2a" stroke-width="1.15"/>
<text x="584.56" y="128.66" font-size="8.0" text-anchor="middle" class="r">ns</text>
<path d="M551.54 118.75V191.74H685.1" stroke="#222" stroke-width="1" fill="none"/>
<line x1="549.14" y1="191.74" x2="551.54" y2="191.74" stroke="#222" stroke-width="1"/>
<text x="547.94" y="194.14" font-size="7.0" class="b" text-anchor="end">0</text>
<line x1="549.14" y1="167.51" x2="551.54" y2="167.51" stroke="#222" stroke-width="1"/>
<text x="547.94" y="169.91" font-size="7.0" class="b" text-anchor="end">5</text>
<line x1="549.14" y1="143.28" x2="551.54" y2="143.28" stroke="#222" stroke-width="1"/>
<text x="547.94" y="145.68" font-size="7.0" class="b" text-anchor="end">10</text>
<line x1="549.14" y1="119.05" x2="551.54" y2="119.05" stroke="#222" stroke-width="1"/>
<text x="547.94" y="121.45" font-size="7.0" class="b" text-anchor="end">15</text>
<line x1="584.56" y1="191.74" x2="584.56" y2="194.14" stroke="#222" stroke-width="0.8"/>
<text x="584.56" y="201.46" font-size="7.0" class="b" text-anchor="middle">Jejunum</text>
<line x1="651.1" y1="191.74" x2="651.1" y2="194.14" stroke="#222" stroke-width="0.8"/>
<text x="651.1" y="201.46" font-size="7.0" class="b" text-anchor="middle">Ileum</text>
<text transform="translate(532 154) rotate(-90)" font-size="8.0" class="b" text-anchor="middle">IgM, μg/mL</text>
<text x="515.5" y="106.7" font-size="11.5" class="b pl">H</text>
</g>
<g>
<line x1="42.44" y1="273.4" x2="176.49" y2="273.4" stroke="#b8b8b8" stroke-width="0.55" stroke-dasharray="1 1"/>
<line x1="42.44" y1="249.16" x2="176.49" y2="249.16" stroke="#b8b8b8" stroke-width="0.55" stroke-dasharray="1 1"/>
<line x1="42.44" y1="224.93" x2="176.49" y2="224.93" stroke="#b8b8b8" stroke-width="0.55" stroke-dasharray="1 1"/>
<path d="M55.27 235.91V235.15M52.34 235.15H58.2" stroke="#262626" stroke-width="0.9" fill="none"/>
<rect x="49.84" y="235.91" width="10.85" height="61.72" fill="#85c1e9" stroke="#262626" stroke-width="0.9"/>
<text x="55.27" y="233.75" font-size="8.0" text-anchor="middle" class="r">a</text>
<path d="M69.07 236.41V235.4M66.14 235.4H72" stroke="#262626" stroke-width="0.9" fill="none"/>
<rect x="63.64" y="236.41" width="10.85" height="61.22" fill="#ffdede" stroke="#262626" stroke-width="0.9"/>
<text x="69.07" y="234" font-size="8.0" text-anchor="middle" class="r">a</text>
<path d="M82.87 241.43V240.68M79.94 240.68H85.8" stroke="#262626" stroke-width="0.9" fill="none"/>
<rect x="77.44" y="241.43" width="10.85" height="56.2" fill="#ff6666" stroke="#262626" stroke-width="0.9"/>
<text x="82.87" y="239.28" font-size="8.0" text-anchor="middle" class="r">c</text>
<path d="M96.67 239.17V238.42M93.74 238.42H99.6" stroke="#262626" stroke-width="0.9" fill="none"/>
<rect x="91.24" y="239.17" width="10.85" height="58.45" fill="#c90000" stroke="#262626" stroke-width="0.9"/>
<text x="96.67" y="237.02" font-size="8.0" text-anchor="middle" class="r">b</text>
<path d="M121.97 231.39V230.13M119.04 230.13H124.9" stroke="#262626" stroke-width="0.9" fill="none"/>
<rect x="116.54" y="231.39" width="10.85" height="66.24" fill="#85c1e9" stroke="#262626" stroke-width="0.9"/>
<text x="121.97" y="228.73" font-size="8.0" text-anchor="middle" class="r">a</text>
<path d="M135.77 231.51V228.62M132.84 228.62H138.7" stroke="#262626" stroke-width="0.9" fill="none"/>
<rect x="130.34" y="231.51" width="10.85" height="66.11" fill="#ffdede" stroke="#262626" stroke-width="0.9"/>
<text x="135.77" y="227.22" font-size="8.0" text-anchor="middle" class="r">a</text>
<path d="M149.57 236.53V235.4M146.64 235.4H152.5" stroke="#262626" stroke-width="0.9" fill="none"/>
<rect x="144.14" y="236.53" width="10.85" height="61.09" fill="#ff6666" stroke="#262626" stroke-width="0.9"/>
<text x="149.57" y="234" font-size="8.0" text-anchor="middle" class="r">b</text>
<path d="M163.37 232.52V227.37M160.44 227.37H166.3" stroke="#262626" stroke-width="0.9" fill="none"/>
<rect x="157.94" y="232.52" width="10.85" height="65.11" fill="#c90000" stroke="#262626" stroke-width="0.9"/>
<text x="163.37" y="225.97" font-size="8.0" text-anchor="middle" class="r">a</text>
<path d="M42.44 224.63V297.63H176.49" stroke="#222" stroke-width="1" fill="none"/>
<line x1="40.04" y1="297.63" x2="42.44" y2="297.63" stroke="#222" stroke-width="1"/>
<text x="38.84" y="300.03" font-size="7.0" class="b" text-anchor="end">0</text>
<line x1="40.04" y1="273.4" x2="42.44" y2="273.4" stroke="#222" stroke-width="1"/>
<text x="38.84" y="275.8" font-size="7.0" class="b" text-anchor="end">50</text>
<line x1="40.04" y1="249.16" x2="42.44" y2="249.16" stroke="#222" stroke-width="1"/>
<text x="38.84" y="251.56" font-size="7.0" class="b" text-anchor="end">100</text>
<line x1="40.04" y1="224.93" x2="42.44" y2="224.93" stroke="#222" stroke-width="1"/>
<text x="38.84" y="227.33" font-size="7.0" class="b" text-anchor="end">150</text>
<line x1="75.96" y1="297.63" x2="75.96" y2="300.03" stroke="#222" stroke-width="0.8"/>
<text x="75.96" y="307.85" font-size="7.0" class="b" text-anchor="middle">Jejunum</text>
<line x1="142.5" y1="297.63" x2="142.5" y2="300.03" stroke="#222" stroke-width="0.8"/>
<text x="142.5" y="307.85" font-size="7.0" class="b" text-anchor="middle">Ileum</text>
<text transform="translate(21.1 260.3) rotate(-90)" font-size="8.0" class="b" text-anchor="middle">IL-1β, ng/L</text>
<text x="4.5" y="217.5" font-size="11.5" class="b pl">I</text>
</g>
<g>
<line x1="216.44" y1="280.22" x2="350.38" y2="280.22" stroke="#b8b8b8" stroke-width="0.55" stroke-dasharray="1 1"/>
<line x1="216.44" y1="261.89" x2="350.38" y2="261.89" stroke="#b8b8b8" stroke-width="0.55" stroke-dasharray="1 1"/>
<line x1="216.44" y1="243.69" x2="350.38" y2="243.69" stroke="#b8b8b8" stroke-width="0.55" stroke-dasharray="1 1"/>
<path d="M229.15 242.18V241.18M226.22 241.18H232.08" stroke="#262626" stroke-width="0.9" fill="none"/>
<rect x="223.73" y="242.18" width="10.85" height="56.37" fill="#85c1e9" stroke="#262626" stroke-width="0.9"/>
<text x="229.15" y="239.78" font-size="8.0" text-anchor="middle" class="r">ab</text>
<path d="M242.95 240.43V239.67M240.02 239.67H245.88" stroke="#262626" stroke-width="0.9" fill="none"/>
<rect x="237.53" y="240.43" width="10.85" height="58.13" fill="#ffdede" stroke="#262626" stroke-width="0.9"/>
<text x="242.95" y="238.27" font-size="8.0" text-anchor="middle" class="r">a</text>
<path d="M256.75 244.44V239.92M253.82 239.92H259.68" stroke="#262626" stroke-width="0.9" fill="none"/>
<rect x="251.33" y="244.44" width="10.85" height="54.11" fill="#ff6666" stroke="#262626" stroke-width="0.9"/>
<text x="256.75" y="238.52" font-size="8.0" text-anchor="middle" class="r">b</text>
<path d="M270.55 242.94V240.18M267.62 240.18H273.48" stroke="#262626" stroke-width="0.9" fill="none"/>
<rect x="265.13" y="242.94" width="10.85" height="55.62" fill="#c90000" stroke="#262626" stroke-width="0.9"/>
<text x="270.55" y="238.78" font-size="8.0" text-anchor="middle" class="r">ab</text>
<path d="M295.85 234.27V233.4M292.92 233.4H298.78" stroke="#262626" stroke-width="0.9" fill="none"/>
<rect x="290.43" y="234.27" width="10.85" height="64.28" fill="#85c1e9" stroke="#262626" stroke-width="0.9"/>
<text x="295.85" y="232" font-size="8.0" text-anchor="middle" class="r">a</text>
<path d="M309.65 239.05V236.91M306.72 236.91H312.58" stroke="#262626" stroke-width="0.9" fill="none"/>
<rect x="304.23" y="239.05" width="10.85" height="59.51" fill="#ffdede" stroke="#262626" stroke-width="0.9"/>
<text x="309.65" y="235.51" font-size="8.0" text-anchor="middle" class="r">b</text>
<path d="M323.45 237.29V234.4M320.52 234.4H326.38" stroke="#262626" stroke-width="0.9" fill="none"/>
<rect x="318.03" y="237.29" width="10.85" height="61.27" fill="#ff6666" stroke="#262626" stroke-width="0.9"/>
<text x="323.45" y="233" font-size="8.0" text-anchor="middle" class="r">ab</text>
<path d="M337.25 236.28V233.14M334.32 233.14H340.18" stroke="#262626" stroke-width="0.9" fill="none"/>
<rect x="331.83" y="236.28" width="10.85" height="62.27" fill="#c90000" stroke="#262626" stroke-width="0.9"/>
<text x="337.25" y="231.74" font-size="8.0" text-anchor="middle" class="r">a</text>
<path d="M216.44 225.31V298.55H350.38" stroke="#222" stroke-width="1" fill="none"/>
<line x1="214.04" y1="298.55" x2="216.44" y2="298.55" stroke="#222" stroke-width="1"/>
<text x="212.84" y="300.95" font-size="7.0" class="b" text-anchor="end">0</text>
<line x1="214.04" y1="280.22" x2="216.44" y2="280.22" stroke="#222" stroke-width="1"/>
<text x="212.84" y="282.62" font-size="7.0" class="b" text-anchor="end">50</text>
<line x1="214.04" y1="261.89" x2="216.44" y2="261.89" stroke="#222" stroke-width="1"/>
<text x="212.84" y="264.29" font-size="7.0" class="b" text-anchor="end">100</text>
<line x1="214.04" y1="243.69" x2="216.44" y2="243.69" stroke="#222" stroke-width="1"/>
<text x="212.84" y="246.09" font-size="7.0" class="b" text-anchor="end">150</text>
<line x1="214.04" y1="225.61" x2="216.44" y2="225.61" stroke="#222" stroke-width="1"/>
<text x="212.84" y="228.01" font-size="7.0" class="b" text-anchor="end">200</text>
<line x1="249.34" y1="298.55" x2="249.34" y2="300.95" stroke="#222" stroke-width="0.8"/>
<text x="249.34" y="308.35" font-size="7.0" class="b" text-anchor="middle">Jejunum</text>
<line x1="315.88" y1="298.55" x2="315.88" y2="300.95" stroke="#222" stroke-width="0.8"/>
<text x="315.88" y="308.35" font-size="7.0" class="b" text-anchor="middle">Ileum</text>
<text transform="translate(194.5 261.2) rotate(-90)" font-size="8.0" class="b" text-anchor="middle">IL-6, ng/L</text>
<text x="179" y="217.5" font-size="11.5" class="b pl">J</text>
</g>
<g>
<line x1="384.93" y1="274.07" x2="519.11" y2="274.07" stroke="#b8b8b8" stroke-width="0.55" stroke-dasharray="1 1"/>
<line x1="384.93" y1="249.72" x2="519.11" y2="249.72" stroke="#b8b8b8" stroke-width="0.55" stroke-dasharray="1 1"/>
<line x1="384.93" y1="225.36" x2="519.11" y2="225.36" stroke="#b8b8b8" stroke-width="0.55" stroke-dasharray="1 1"/>
<path d="M397.89 248.59V246.45M394.96 246.45H400.82" stroke="#262626" stroke-width="0.9" fill="none"/>
<rect x="392.46" y="248.59" width="10.85" height="49.59" fill="#85c1e9" stroke="#262626" stroke-width="0.9"/>
<text x="397.89" y="245.05" font-size="8.0" text-anchor="middle" class="r">b</text>
<path d="M411.69 248.08V246.7M408.76 246.7H414.62" stroke="#262626" stroke-width="0.9" fill="none"/>
<rect x="406.26" y="248.08" width="10.85" height="50.09" fill="#ffdede" stroke="#262626" stroke-width="0.9"/>
<text x="411.69" y="245.3" font-size="8.0" text-anchor="middle" class="r">b</text>
<path d="M425.49 250.34V249.21M422.56 249.21H428.42" stroke="#262626" stroke-width="0.9" fill="none"/>
<rect x="420.06" y="250.34" width="10.85" height="47.83" fill="#ff6666" stroke="#262626" stroke-width="0.9"/>
<text x="425.49" y="247.81" font-size="8.0" text-anchor="middle" class="r">b</text>
<path d="M439.29 245.2V244.19M436.36 244.19H442.22" stroke="#262626" stroke-width="0.9" fill="none"/>
<rect x="433.86" y="245.2" width="10.85" height="52.98" fill="#c90000" stroke="#262626" stroke-width="0.9"/>
<text x="439.29" y="242.79" font-size="8.0" text-anchor="middle" class="r">a</text>
<path d="M464.59 246.2V245.7M461.66 245.7H467.52" stroke="#262626" stroke-width="0.9" fill="none"/>
<rect x="459.16" y="246.2" width="10.85" height="51.98" fill="#85c1e9" stroke="#262626" stroke-width="0.9"/>
<text x="464.59" y="244.3" font-size="8.0" text-anchor="middle" class="r">a</text>
<path d="M478.39 253.23V251.22M475.46 251.22H481.32" stroke="#262626" stroke-width="0.9" fill="none"/>
<rect x="472.96" y="253.23" width="10.85" height="44.95" fill="#ffdede" stroke="#262626" stroke-width="0.9"/>
<text x="478.39" y="249.82" font-size="8.0" text-anchor="middle" class="r">b</text>
<path d="M492.19 255.49V253.23M489.26 253.23H495.12" stroke="#262626" stroke-width="0.9" fill="none"/>
<rect x="486.76" y="255.49" width="10.85" height="42.69" fill="#ff6666" stroke="#262626" stroke-width="0.9"/>
<text x="492.19" y="251.83" font-size="8.0" text-anchor="middle" class="r">c</text>
<path d="M505.99 256.75V254.99M503.06 254.99H508.92" stroke="#262626" stroke-width="0.9" fill="none"/>
<rect x="500.56" y="256.75" width="10.85" height="41.43" fill="#c90000" stroke="#262626" stroke-width="0.9"/>
<text x="505.99" y="253.59" font-size="8.0" text-anchor="middle" class="r">c</text>
<path d="M384.93 225.06V298.18H519.11" stroke="#222" stroke-width="1" fill="none"/>
<line x1="382.53" y1="298.18" x2="384.93" y2="298.18" stroke="#222" stroke-width="1"/>
<text x="381.33" y="300.58" font-size="7.0" class="b" text-anchor="end">0</text>
<line x1="382.53" y1="274.07" x2="384.93" y2="274.07" stroke="#222" stroke-width="1"/>
<text x="381.33" y="276.47" font-size="7.0" class="b" text-anchor="end">50</text>
<line x1="382.53" y1="249.72" x2="384.93" y2="249.72" stroke="#222" stroke-width="1"/>
<text x="381.33" y="252.12" font-size="7.0" class="b" text-anchor="end">100</text>
<line x1="382.53" y1="225.36" x2="384.93" y2="225.36" stroke="#222" stroke-width="1"/>
<text x="381.33" y="227.76" font-size="7.0" class="b" text-anchor="end">150</text>
<line x1="418.58" y1="298.18" x2="418.58" y2="300.58" stroke="#222" stroke-width="0.8"/>
<text x="418.58" y="308.22" font-size="7.0" class="b" text-anchor="middle">Jejunum</text>
<line x1="485.12" y1="298.18" x2="485.12" y2="300.58" stroke="#222" stroke-width="0.8"/>
<text x="485.12" y="308.22" font-size="7.0" class="b" text-anchor="middle">Ileum</text>
<text transform="translate(362.7 261.2) rotate(-90)" font-size="8.0" class="b" text-anchor="middle">IL-8, ng/L</text>
<text x="350.1" y="217.5" font-size="11.5" class="b pl">K</text>
</g>
<g>
<line x1="550.79" y1="279.6" x2="685.1" y2="279.6" stroke="#b8b8b8" stroke-width="0.55" stroke-dasharray="1 1"/>
<line x1="550.79" y1="261.47" x2="685.1" y2="261.47" stroke="#b8b8b8" stroke-width="0.55" stroke-dasharray="1 1"/>
<line x1="550.79" y1="243.34" x2="685.1" y2="243.34" stroke="#b8b8b8" stroke-width="0.55" stroke-dasharray="1 1"/>
<path d="M563.87 249.97V247.71M560.94 247.71H566.8" stroke="#262626" stroke-width="0.9" fill="none"/>
<rect x="558.45" y="249.97" width="10.85" height="47.76" fill="#85c1e9" stroke="#262626" stroke-width="0.9"/>
<path d="M577.67 250.22V244.19M574.74 244.19H580.6" stroke="#262626" stroke-width="0.9" fill="none"/>
<rect x="572.25" y="250.22" width="10.85" height="47.51" fill="#ffdede" stroke="#262626" stroke-width="0.9"/>
<path d="M591.47 247.71V238.17M588.54 238.17H594.4" stroke="#262626" stroke-width="0.9" fill="none"/>
<rect x="586.05" y="247.71" width="10.85" height="50.02" fill="#ff6666" stroke="#262626" stroke-width="0.9"/>
<path d="M605.27 245.95V242.69M602.34 242.69H608.2" stroke="#262626" stroke-width="0.9" fill="none"/>
<rect x="599.85" y="245.95" width="10.85" height="51.78" fill="#c90000" stroke="#262626" stroke-width="0.9"/>
<path d="M630.57 251.22V249.21M627.64 249.21H633.5" stroke="#262626" stroke-width="0.9" fill="none"/>
<rect x="625.15" y="251.22" width="10.85" height="46.5" fill="#85c1e9" stroke="#262626" stroke-width="0.9"/>
<text x="630.57" y="247.81" font-size="8.0" text-anchor="middle" class="r">b</text>
<path d="M644.37 243.44V240.43M641.44 240.43H647.3" stroke="#262626" stroke-width="0.9" fill="none"/>
<rect x="638.95" y="243.44" width="10.85" height="54.29" fill="#ffdede" stroke="#262626" stroke-width="0.9"/>
<text x="644.37" y="239.03" font-size="8.0" text-anchor="middle" class="r">a</text>
<path d="M658.17 254.36V251.22M655.24 251.22H661.1" stroke="#262626" stroke-width="0.9" fill="none"/>
<rect x="652.75" y="254.36" width="10.85" height="43.36" fill="#ff6666" stroke="#262626" stroke-width="0.9"/>
<text x="658.17" y="249.82" font-size="8.0" text-anchor="middle" class="r">b</text>
<path d="M671.97 243.19V238.17M669.04 238.17H674.9" stroke="#262626" stroke-width="0.9" fill="none"/>
<rect x="666.55" y="243.19" width="10.85" height="54.54" fill="#c90000" stroke="#262626" stroke-width="0.9"/>
<text x="671.97" y="236.77" font-size="8.0" text-anchor="middle" class="r">a</text>
<line x1="557.69" y1="235.55" x2="611.43" y2="235.55" stroke="#2a2a2a" stroke-width="1.15"/>
<text x="584.56" y="232.54" font-size="8.0" text-anchor="middle" class="r">ns</text>
<path d="M550.79 224.91V297.73H685.1" stroke="#222" stroke-width="1" fill="none"/>
<line x1="548.39" y1="297.73" x2="550.79" y2="297.73" stroke="#222" stroke-width="1"/>
<text x="547.19" y="300.13" font-size="7.0" class="b" text-anchor="end">0</text>
<line x1="548.39" y1="279.6" x2="550.79" y2="279.6" stroke="#222" stroke-width="1"/>
<text x="547.19" y="282" font-size="7.0" class="b" text-anchor="end">50</text>
<line x1="548.39" y1="261.47" x2="550.79" y2="261.47" stroke="#222" stroke-width="1"/>
<text x="547.19" y="263.87" font-size="7.0" class="b" text-anchor="end">100</text>
<line x1="548.39" y1="243.34" x2="550.79" y2="243.34" stroke="#222" stroke-width="1"/>
<text x="547.19" y="245.74" font-size="7.0" class="b" text-anchor="end">150</text>
<line x1="548.39" y1="225.21" x2="550.79" y2="225.21" stroke="#222" stroke-width="1"/>
<text x="547.19" y="227.61" font-size="7.0" class="b" text-anchor="end">200</text>
<line x1="584.56" y1="297.73" x2="584.56" y2="300.13" stroke="#222" stroke-width="0.8"/>
<text x="584.56" y="307.59" font-size="7.0" class="b" text-anchor="middle">Jejunum</text>
<line x1="651.1" y1="297.73" x2="651.1" y2="300.13" stroke="#222" stroke-width="0.8"/>
<text x="651.1" y="307.59" font-size="7.0" class="b" text-anchor="middle">Ileum</text>
<text transform="translate(527.8 260.9) rotate(-90)" font-size="8.0" class="b" text-anchor="middle">IL-10, ng/L</text>
<text x="515.5" y="217.5" font-size="11.5" class="b pl">L</text>
</g>
<g>
<line x1="42.18" y1="376.28" x2="176.12" y2="376.28" stroke="#b8b8b8" stroke-width="0.55" stroke-dasharray="1 1"/>
<line x1="42.18" y1="352.05" x2="176.12" y2="352.05" stroke="#b8b8b8" stroke-width="0.55" stroke-dasharray="1 1"/>
<path d="M54.89 353.18V351.67M51.96 351.67H57.82" stroke="#262626" stroke-width="0.9" fill="none"/>
<rect x="49.47" y="353.18" width="10.85" height="47.33" fill="#85c1e9" stroke="#262626" stroke-width="0.9"/>
<text x="54.89" y="350.27" font-size="8.0" text-anchor="middle" class="r">a</text>
<path d="M68.69 356.44V354.44M65.76 354.44H71.62" stroke="#262626" stroke-width="0.9" fill="none"/>
<rect x="63.27" y="356.44" width="10.85" height="44.07" fill="#ffdede" stroke="#262626" stroke-width="0.9"/>
<text x="68.69" y="353.04" font-size="8.0" text-anchor="middle" class="r">b</text>
<path d="M82.49 357.45V356.44M79.56 356.44H85.42" stroke="#262626" stroke-width="0.9" fill="none"/>
<rect x="77.07" y="357.45" width="10.85" height="43.06" fill="#ff6666" stroke="#262626" stroke-width="0.9"/>
<text x="82.49" y="355.04" font-size="8.0" text-anchor="middle" class="r">b</text>
<path d="M96.29 353.43V350.42M93.36 350.42H99.22" stroke="#262626" stroke-width="0.9" fill="none"/>
<rect x="90.87" y="353.43" width="10.85" height="47.08" fill="#c90000" stroke="#262626" stroke-width="0.9"/>
<text x="96.29" y="349.02" font-size="8.0" text-anchor="middle" class="r">a</text>
<path d="M121.59 351.55V350.79M118.66 350.79H124.52" stroke="#262626" stroke-width="0.9" fill="none"/>
<rect x="116.17" y="351.55" width="10.85" height="48.96" fill="#85c1e9" stroke="#262626" stroke-width="0.9"/>
<text x="121.59" y="349.39" font-size="8.0" text-anchor="middle" class="r">a</text>
<path d="M135.39 357.82V356.32M132.46 356.32H138.32" stroke="#262626" stroke-width="0.9" fill="none"/>
<rect x="129.97" y="357.82" width="10.85" height="42.69" fill="#ffdede" stroke="#262626" stroke-width="0.9"/>
<text x="135.39" y="354.92" font-size="8.0" text-anchor="middle" class="r">b</text>
<path d="M149.19 363.35V361.09M146.26 361.09H152.12" stroke="#262626" stroke-width="0.9" fill="none"/>
<rect x="143.77" y="363.35" width="10.85" height="37.16" fill="#ff6666" stroke="#262626" stroke-width="0.9"/>
<text x="149.19" y="359.69" font-size="8.0" text-anchor="middle" class="r">c</text>
<path d="M162.99 363.85V362.85M160.06 362.85H165.92" stroke="#262626" stroke-width="0.9" fill="none"/>
<rect x="157.57" y="363.85" width="10.85" height="36.66" fill="#c90000" stroke="#262626" stroke-width="0.9"/>
<text x="162.99" y="361.45" font-size="8.0" text-anchor="middle" class="r">c</text>
<path d="M42.18 327.52V400.51H176.12" stroke="#222" stroke-width="1" fill="none"/>
<line x1="39.78" y1="400.51" x2="42.18" y2="400.51" stroke="#222" stroke-width="1"/>
<text x="38.58" y="402.91" font-size="7.0" class="b" text-anchor="end">0</text>
<line x1="39.78" y1="376.28" x2="42.18" y2="376.28" stroke="#222" stroke-width="1"/>
<text x="38.58" y="378.68" font-size="7.0" class="b" text-anchor="end">500</text>
<line x1="39.78" y1="352.05" x2="42.18" y2="352.05" stroke="#222" stroke-width="1"/>
<text x="38.58" y="354.45" font-size="7.0" class="b" text-anchor="end">1000</text>
<line x1="39.78" y1="327.82" x2="42.18" y2="327.82" stroke="#222" stroke-width="1"/>
<text x="38.58" y="330.22" font-size="7.0" class="b" text-anchor="end">1500</text>
<line x1="75.58" y1="400.51" x2="75.58" y2="402.91" stroke="#222" stroke-width="0.8"/>
<text x="75.58" y="410.43" font-size="7.0" class="b" text-anchor="middle">Jejunum</text>
<line x1="142.12" y1="400.51" x2="142.12" y2="402.91" stroke="#222" stroke-width="0.8"/>
<text x="142.12" y="410.43" font-size="7.0" class="b" text-anchor="middle">Ileum</text>
<text transform="translate(16.9 363.2) rotate(-90)" font-size="8.0" class="b" text-anchor="middle">TNF-α, ng/L</text>
<text x="0.4" y="316.6" font-size="11.5" class="b pl">M</text>
</g>
<g>
<line x1="216.44" y1="388.63" x2="429.87" y2="388.63" stroke="#b8b8b8" stroke-width="0.55" stroke-dasharray="1 1"/>
<line x1="216.44" y1="374" x2="429.87" y2="374" stroke="#b8b8b8" stroke-width="0.55" stroke-dasharray="1 1"/>
<line x1="216.44" y1="359.36" x2="429.87" y2="359.36" stroke="#b8b8b8" stroke-width="0.55" stroke-dasharray="1 1"/>
<line x1="216.44" y1="344.79" x2="429.87" y2="344.79" stroke="#b8b8b8" stroke-width="0.55" stroke-dasharray="1 1"/>
<path d="M226.72 374.27V373.52M224.43 373.52H229.02" stroke="#262626" stroke-width="0.9" fill="none"/>
<rect x="222.47" y="374.27" width="8.5" height="29" fill="#85c1e9" stroke="#262626" stroke-width="0.9"/>
<text x="226.72" y="372.12" font-size="8.0" text-anchor="middle" class="r">c</text>
<path d="M237.77 350.42V345.4M235.48 345.4H240.07" stroke="#262626" stroke-width="0.9" fill="none"/>
<rect x="233.52" y="350.42" width="8.5" height="52.86" fill="#ffdede" stroke="#262626" stroke-width="0.9"/>
<text x="237.77" y="343.5" font-size="8.0" text-anchor="middle" class="r">b</text>
<path d="M248.82 342.38V338.36M246.53 338.36H251.12" stroke="#262626" stroke-width="0.9" fill="none"/>
<rect x="244.57" y="342.38" width="8.5" height="60.89" fill="#ff6666" stroke="#262626" stroke-width="0.9"/>
<text x="248.82" y="337.06" font-size="8.0" text-anchor="middle" class="r">a</text>
<path d="M259.87 381.3V378.79M257.58 378.79H262.17" stroke="#262626" stroke-width="0.9" fill="none"/>
<rect x="255.62" y="381.3" width="8.5" height="21.97" fill="#c90000" stroke="#262626" stroke-width="0.9"/>
<text x="259.87" y="376.89" font-size="8.0" text-anchor="middle" class="r">d</text>
<path d="M279.97 373.52V372.76M277.68 372.76H282.27" stroke="#262626" stroke-width="0.9" fill="none"/>
<rect x="275.72" y="373.52" width="8.5" height="29.75" fill="#85c1e9" stroke="#262626" stroke-width="0.9"/>
<text x="279.97" y="371.36" font-size="8.0" text-anchor="middle" class="r">c</text>
<path d="M291.02 361.47V359.96M288.73 359.96H293.32" stroke="#262626" stroke-width="0.9" fill="none"/>
<rect x="286.77" y="361.47" width="8.5" height="41.81" fill="#ffdede" stroke="#262626" stroke-width="0.9"/>
<text x="291.02" y="358.06" font-size="8.0" text-anchor="middle" class="r">b</text>
<path d="M302.07 346.4V344.14M299.78 344.14H304.37" stroke="#262626" stroke-width="0.9" fill="none"/>
<rect x="297.82" y="346.4" width="8.5" height="56.87" fill="#ff6666" stroke="#262626" stroke-width="0.9"/>
<text x="302.07" y="341.94" font-size="8.0" text-anchor="middle" class="r">a</text>
<path d="M313.12 383.56V383.06M310.83 383.06H315.42" stroke="#262626" stroke-width="0.9" fill="none"/>
<rect x="308.87" y="383.56" width="8.5" height="19.71" fill="#c90000" stroke="#262626" stroke-width="0.9"/>
<text x="313.12" y="381.16" font-size="8.0" text-anchor="middle" class="r">d</text>
<path d="M333.22 373.77V373.27M330.93 373.27H335.52" stroke="#262626" stroke-width="0.9" fill="none"/>
<rect x="328.97" y="373.77" width="8.5" height="29.5" fill="#85c1e9" stroke="#262626" stroke-width="0.9"/>
<text x="333.22" y="371.87" font-size="8.0" text-anchor="middle" class="r">c</text>
<path d="M344.27 361.21V359.71M341.98 359.71H346.57" stroke="#262626" stroke-width="0.9" fill="none"/>
<rect x="340.02" y="361.21" width="8.5" height="42.06" fill="#ffdede" stroke="#262626" stroke-width="0.9"/>
<text x="344.27" y="357.81" font-size="8.0" text-anchor="middle" class="r">b</text>
<path d="M355.32 347.15V346.4M353.03 346.4H357.62" stroke="#262626" stroke-width="0.9" fill="none"/>
<rect x="351.07" y="347.15" width="8.5" height="56.12" fill="#ff6666" stroke="#262626" stroke-width="0.9"/>
<text x="355.32" y="344.2" font-size="8.0" text-anchor="middle" class="r">a</text>
<path d="M366.37 386.32V384.57M364.08 384.57H368.67" stroke="#262626" stroke-width="0.9" fill="none"/>
<rect x="362.12" y="386.32" width="8.5" height="16.95" fill="#c90000" stroke="#262626" stroke-width="0.9"/>
<text x="366.37" y="382.67" font-size="8.0" text-anchor="middle" class="r">d</text>
<path d="M386.47 374.52V373.27M384.18 373.27H388.77" stroke="#262626" stroke-width="0.9" fill="none"/>
<rect x="382.22" y="374.52" width="8.5" height="28.75" fill="#85c1e9" stroke="#262626" stroke-width="0.9"/>
<text x="386.47" y="371.87" font-size="8.0" text-anchor="middle" class="r">c</text>
<path d="M397.52 348.41V344.64M395.23 344.64H399.82" stroke="#262626" stroke-width="0.9" fill="none"/>
<rect x="393.27" y="348.41" width="8.5" height="54.86" fill="#ffdede" stroke="#262626" stroke-width="0.9"/>
<text x="397.52" y="342.74" font-size="8.0" text-anchor="middle" class="r">b</text>
<path d="M408.57 338.36V337.11M406.28 337.11H410.87" stroke="#262626" stroke-width="0.9" fill="none"/>
<rect x="404.32" y="338.36" width="8.5" height="64.91" fill="#ff6666" stroke="#262626" stroke-width="0.9"/>
<text x="408.57" y="334.91" font-size="8.0" text-anchor="middle" class="r">a</text>
<path d="M419.62 381.55V379.54M417.33 379.54H421.92" stroke="#262626" stroke-width="0.9" fill="none"/>
<rect x="415.37" y="381.55" width="8.5" height="21.72" fill="#c90000" stroke="#262626" stroke-width="0.9"/>
<text x="419.62" y="377.64" font-size="8.0" text-anchor="middle" class="r">d</text>
<path d="M216.44 330.03V403.27H429.87" stroke="#222" stroke-width="1" fill="none"/>
<line x1="214.04" y1="403.27" x2="216.44" y2="403.27" stroke="#222" stroke-width="1"/>
<text x="212.84" y="405.67" font-size="7.0" class="b" text-anchor="end">0.0</text>
<line x1="214.04" y1="388.63" x2="216.44" y2="388.63" stroke="#222" stroke-width="1"/>
<text x="212.84" y="391.03" font-size="7.0" class="b" text-anchor="end">0.5</text>
<line x1="214.04" y1="374" x2="216.44" y2="374" stroke="#222" stroke-width="1"/>
<text x="212.84" y="376.4" font-size="7.0" class="b" text-anchor="end">1.0</text>
<line x1="214.04" y1="359.36" x2="216.44" y2="359.36" stroke="#222" stroke-width="1"/>
<text x="212.84" y="361.76" font-size="7.0" class="b" text-anchor="end">1.5</text>
<line x1="214.04" y1="344.79" x2="216.44" y2="344.79" stroke="#222" stroke-width="1"/>
<text x="212.84" y="347.19" font-size="7.0" class="b" text-anchor="end">2.0</text>
<line x1="214.04" y1="330.33" x2="216.44" y2="330.33" stroke="#222" stroke-width="1"/>
<text x="212.84" y="332.73" font-size="7.0" class="b" text-anchor="end">2.5</text>
<line x1="243.31" y1="403.27" x2="243.31" y2="405.67" stroke="#222" stroke-width="0.8"/>
<text x="243.31" y="411.94" font-size="7.0" class="b" font-style="italic" text-anchor="middle">MUC2</text>
<line x1="296.29" y1="403.27" x2="296.29" y2="405.67" stroke="#222" stroke-width="0.8"/>
<text x="296.29" y="411.94" font-size="7.0" class="b" font-style="italic" text-anchor="middle">CLDN1</text>
<line x1="349.52" y1="403.27" x2="349.52" y2="405.67" stroke="#222" stroke-width="0.8"/>
<text x="349.52" y="411.94" font-size="7.0" class="b" font-style="italic" text-anchor="middle">OCLN1</text>
<line x1="403.01" y1="403.27" x2="403.01" y2="405.67" stroke="#222" stroke-width="0.8"/>
<text x="403.01" y="411.94" font-size="7.0" class="b" font-style="italic" text-anchor="middle">TJP1</text>
<text transform="translate(197.3 365.4) rotate(-90)" font-size="7.8" class="b" text-anchor="middle">Jejunum relative mRNA level</text>
<text x="178.8" y="316.4" font-size="11.5" class="b pl">N</text>
</g>
<g>
<line x1="462.94" y1="385.04" x2="675.48" y2="385.04" stroke="#b8b8b8" stroke-width="0.55" stroke-dasharray="1 1"/>
<line x1="462.94" y1="366.81" x2="675.48" y2="366.81" stroke="#b8b8b8" stroke-width="0.55" stroke-dasharray="1 1"/>
<line x1="462.94" y1="348.58" x2="675.48" y2="348.58" stroke="#b8b8b8" stroke-width="0.55" stroke-dasharray="1 1"/>
<path d="M472.33 385.07V383.81M470.04 383.81H474.63" stroke="#262626" stroke-width="0.9" fill="none"/>
<rect x="468.08" y="385.07" width="8.5" height="18.2" fill="#85c1e9" stroke="#262626" stroke-width="0.9"/>
<text x="472.33" y="382.41" font-size="8.0" text-anchor="middle" class="r">c</text>
<path d="M483.38 375.28V371.26M481.09 371.26H485.68" stroke="#262626" stroke-width="0.9" fill="none"/>
<rect x="479.13" y="375.28" width="8.5" height="28" fill="#ffdede" stroke="#262626" stroke-width="0.9"/>
<text x="483.38" y="369.86" font-size="8.0" text-anchor="middle" class="r">b</text>
<path d="M494.43 362.47V359.21M492.14 359.21H496.73" stroke="#262626" stroke-width="0.9" fill="none"/>
<rect x="490.18" y="362.47" width="8.5" height="40.8" fill="#ff6666" stroke="#262626" stroke-width="0.9"/>
<text x="494.43" y="357.81" font-size="8.0" text-anchor="middle" class="r">a</text>
<path d="M505.48 390.34V388.33M503.19 388.33H507.78" stroke="#262626" stroke-width="0.9" fill="none"/>
<rect x="501.23" y="390.34" width="8.5" height="12.93" fill="#c90000" stroke="#262626" stroke-width="0.9"/>
<text x="505.48" y="386.93" font-size="8.0" text-anchor="middle" class="r">d</text>
<path d="M525.58 384.32V383.81M523.29 383.81H527.88" stroke="#262626" stroke-width="0.9" fill="none"/>
<rect x="521.33" y="384.32" width="8.5" height="18.96" fill="#85c1e9" stroke="#262626" stroke-width="0.9"/>
<text x="525.58" y="382.71" font-size="8.0" text-anchor="middle" class="r">c</text>
<path d="M536.63 373.02V370M534.34 370H538.93" stroke="#262626" stroke-width="0.9" fill="none"/>
<rect x="532.38" y="373.02" width="8.5" height="30.26" fill="#ffdede" stroke="#262626" stroke-width="0.9"/>
<text x="536.63" y="367.8" font-size="8.0" text-anchor="middle" class="r">b</text>
<path d="M547.68 365.23V363.98M545.39 363.98H549.98" stroke="#262626" stroke-width="0.9" fill="none"/>
<rect x="543.43" y="365.23" width="8.5" height="38.04" fill="#ff6666" stroke="#262626" stroke-width="0.9"/>
<text x="547.68" y="361.38" font-size="8.0" text-anchor="middle" class="r">a</text>
<path d="M558.73 389.84V388.33M556.44 388.33H561.03" stroke="#262626" stroke-width="0.9" fill="none"/>
<rect x="554.48" y="389.84" width="8.5" height="13.43" fill="#c90000" stroke="#262626" stroke-width="0.9"/>
<text x="558.73" y="386.93" font-size="8.0" text-anchor="middle" class="r">d</text>
<path d="M578.83 384.82V384.06M576.54 384.06H581.13" stroke="#262626" stroke-width="0.9" fill="none"/>
<rect x="574.58" y="384.82" width="8.5" height="18.46" fill="#85c1e9" stroke="#262626" stroke-width="0.9"/>
<text x="578.83" y="382.66" font-size="8.0" text-anchor="middle" class="r">c</text>
<path d="M589.88 371.51V370M587.59 370H592.18" stroke="#262626" stroke-width="0.9" fill="none"/>
<rect x="585.63" y="371.51" width="8.5" height="31.76" fill="#ffdede" stroke="#262626" stroke-width="0.9"/>
<text x="589.88" y="367.6" font-size="8.0" text-anchor="middle" class="r">b</text>
<path d="M600.93 350.42V348.66M598.64 348.66H603.23" stroke="#262626" stroke-width="0.9" fill="none"/>
<rect x="596.68" y="350.42" width="8.5" height="52.86" fill="#ff6666" stroke="#262626" stroke-width="0.9"/>
<text x="600.93" y="347.26" font-size="8.0" text-anchor="middle" class="r">a</text>
<path d="M611.98 391.35V390.34M609.69 390.34H614.28" stroke="#262626" stroke-width="0.9" fill="none"/>
<rect x="607.73" y="391.35" width="8.5" height="11.93" fill="#c90000" stroke="#262626" stroke-width="0.9"/>
<text x="611.98" y="388.94" font-size="8.0" text-anchor="middle" class="r">d</text>
<path d="M632.08 384.57V384.06M629.79 384.06H634.38" stroke="#262626" stroke-width="0.9" fill="none"/>
<rect x="627.83" y="384.57" width="8.5" height="18.71" fill="#85c1e9" stroke="#262626" stroke-width="0.9"/>
<text x="632.08" y="382.66" font-size="8.0" text-anchor="middle" class="r">c</text>
<path d="M643.13 376.28V373.52M640.84 373.52H645.43" stroke="#262626" stroke-width="0.9" fill="none"/>
<rect x="638.88" y="376.28" width="8.5" height="26.99" fill="#ffdede" stroke="#262626" stroke-width="0.9"/>
<text x="643.13" y="372.12" font-size="8.0" text-anchor="middle" class="r">b</text>
<path d="M654.18 363.47V362.47M651.89 362.47H656.48" stroke="#262626" stroke-width="0.9" fill="none"/>
<rect x="649.93" y="363.47" width="8.5" height="39.8" fill="#ff6666" stroke="#262626" stroke-width="0.9"/>
<text x="654.18" y="361.07" font-size="8.0" text-anchor="middle" class="r">a</text>
<path d="M665.23 391.85V389.84M662.94 389.84H667.53" stroke="#262626" stroke-width="0.9" fill="none"/>
<rect x="660.98" y="391.85" width="8.5" height="11.42" fill="#c90000" stroke="#262626" stroke-width="0.9"/>
<text x="665.23" y="388.44" font-size="8.0" text-anchor="middle" class="r">d</text>
<path d="M462.94 330.06V403.27H675.48" stroke="#222" stroke-width="1" fill="none"/>
<line x1="460.54" y1="403.27" x2="462.94" y2="403.27" stroke="#222" stroke-width="1"/>
<text x="458.34" y="405.67" font-size="7.0" class="b" text-anchor="end">0</text>
<line x1="460.54" y1="385.04" x2="462.94" y2="385.04" stroke="#222" stroke-width="1"/>
<text x="458.34" y="387.44" font-size="7.0" class="b" text-anchor="end">1</text>
<line x1="460.54" y1="366.81" x2="462.94" y2="366.81" stroke="#222" stroke-width="1"/>
<text x="458.34" y="369.21" font-size="7.0" class="b" text-anchor="end">2</text>
<line x1="460.54" y1="348.58" x2="462.94" y2="348.58" stroke="#222" stroke-width="1"/>
<text x="458.34" y="350.98" font-size="7.0" class="b" text-anchor="end">3</text>
<line x1="460.54" y1="330.36" x2="462.94" y2="330.36" stroke="#222" stroke-width="1"/>
<text x="458.34" y="332.76" font-size="7.0" class="b" text-anchor="end">4</text>
<line x1="488.8" y1="403.27" x2="488.8" y2="405.67" stroke="#222" stroke-width="0.8"/>
<text x="488.8" y="412.56" font-size="7.0" class="b" font-style="italic" text-anchor="middle">MUC2</text>
<line x1="541.78" y1="403.27" x2="541.78" y2="405.67" stroke="#222" stroke-width="0.8"/>
<text x="541.78" y="412.56" font-size="7.0" class="b" font-style="italic" text-anchor="middle">CLDN1</text>
<line x1="595.01" y1="403.27" x2="595.01" y2="405.67" stroke="#222" stroke-width="0.8"/>
<text x="595.01" y="412.56" font-size="7.0" class="b" font-style="italic" text-anchor="middle">OCLN1</text>
<line x1="648.25" y1="403.27" x2="648.25" y2="405.67" stroke="#222" stroke-width="0.8"/>
<text x="648.25" y="412.56" font-size="7.0" class="b" font-style="italic" text-anchor="middle">TJP1</text>
<text transform="translate(447.3 365.6) rotate(-90)" font-size="7.8" class="b" text-anchor="middle">Ileum relative mRNA level</text>
<text x="431.9" y="316.4" font-size="11.5" class="b pl">O</text>
</g>
<g>
<rect x="101.3" y="8.6" width="7.2" height="3.1" fill="#85c1e9" stroke="#262626" stroke-width="0.6"/>
<text x="113" y="12" font-size="5.95" fill="#222">CON</text>
<rect x="137.8" y="8.6" width="7.2" height="3.1" fill="#ffdede" stroke="#262626" stroke-width="0.6"/>
<text x="149.6" y="12" font-size="5.95" fill="#222">L-HMB</text>
<rect x="101.3" y="16.4" width="7.2" height="3.1" fill="#ff6666" stroke="#262626" stroke-width="0.6"/>
<text x="113" y="19.8" font-size="5.95" fill="#222">M-HMB</text>
<rect x="137.8" y="16.4" width="7.2" height="3.1" fill="#c90000" stroke="#262626" stroke-width="0.6"/>
<text x="149.6" y="19.8" font-size="5.95" fill="#222">H-HMB</text>
</g>
</svg>
</body></html>
